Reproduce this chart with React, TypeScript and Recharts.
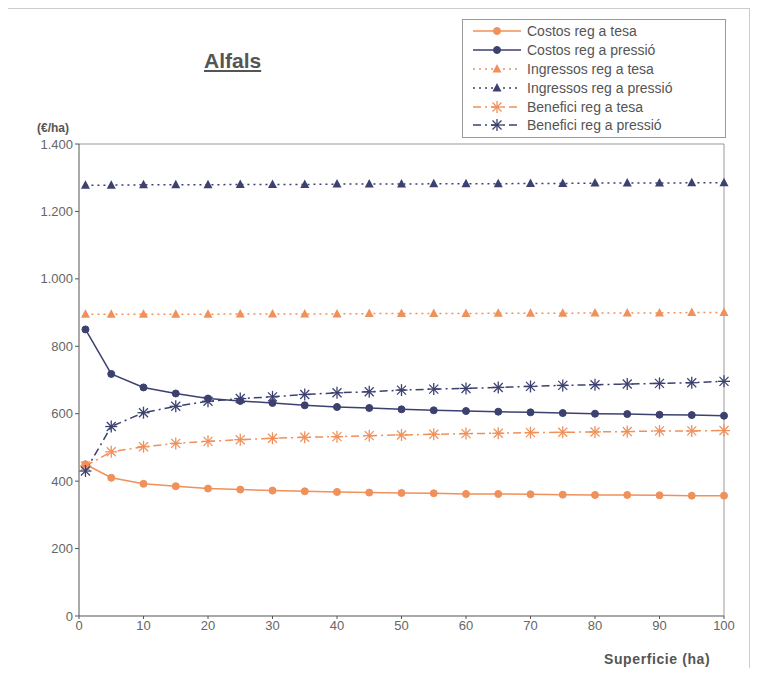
import React from "react";
import {
  LineChart,
  Line,
  XAxis,
  YAxis,
  ReferenceLine,
} from "recharts";

const superficie = [1, 5, 10, 15, 20, 25, 30, 35, 40, 45, 50, 55, 60, 65, 70, 75, 80, 85, 90, 95, 100];

const costosTesa = [450, 410, 392, 385, 378, 375, 372, 370, 368, 366, 365, 364, 362, 362, 361, 360, 359, 359, 358, 357, 357];
const costosPressio = [850, 718, 678, 660, 645, 638, 632, 625, 620, 617, 613, 610, 608, 606, 604, 602, 600, 599, 597, 596, 594];
const ingressosTesa = [895, 895, 895, 895, 895, 896, 896, 896, 896, 897, 897, 897, 897, 898, 898, 898, 899, 899, 899, 900, 900];
const ingressosPressio = [1278, 1278, 1279, 1279, 1279, 1280, 1280, 1280, 1281, 1281, 1281, 1282, 1282, 1282, 1283, 1283, 1284, 1284, 1284, 1285, 1285];
const beneficiTesa = [445, 487, 502, 512, 518, 523, 527, 530, 532, 535, 537, 539, 541, 542, 544, 545, 546, 547, 549, 549, 550];
const beneficiPressio = [430, 562, 603, 622, 637, 645, 650, 657, 662, 665, 670, 673, 675, 678, 681, 684, 686, 688, 690, 692, 696];

const yTicks = [0, 200, 400, 600, 800, 1000, 1200, 1400];
const xTicks = [0, 10, 20, 30, 40, 50, 60, 70, 80, 90, 100];

const ORANGE = "#f0905a";
const NAVY = "#3d4170";

const data = superficie.map((s, i) => ({
  s,
  costosTesa: costosTesa[i],
  costosPressio: costosPressio[i],
  ingressosTesa: ingressosTesa[i],
  ingressosPressio: ingressosPressio[i],
  beneficiTesa: beneficiTesa[i],
  beneficiPressio: beneficiPressio[i],
}));

type Shape = "circle" | "triangle" | "star";

function Marker({ cx, cy, shape, color }: { cx: number; cy: number; shape: Shape; color: string }) {
  if (cx == null || cy == null) return null;
  if (shape === "circle") return <circle cx={cx} cy={cy} r={3.5} fill={color} stroke={color} />;
  if (shape === "triangle")
    return <polygon points={`${cx},${cy - 5} ${cx + 4.5},${cy + 3.5} ${cx - 4.5},${cy + 3.5}`} fill={color} />;
  const r = 6;
  return (
    <g stroke={color} strokeWidth={1.3}>
      <line x1={cx - r} y1={cy} x2={cx + r} y2={cy} />
      <line x1={cx} y1={cy - r} x2={cx} y2={cy + r} />
      <line x1={cx - r * 0.75} y1={cy - r * 0.75} x2={cx + r * 0.75} y2={cy + r * 0.75} />
      <line x1={cx - r * 0.75} y1={cy + r * 0.75} x2={cx + r * 0.75} y2={cy - r * 0.75} />
    </g>
  );
}

const series = [
  { key: "costosTesa", name: "Costos reg a tesa", color: ORANGE, dash: undefined, shape: "circle" as Shape },
  { key: "costosPressio", name: "Costos reg a pressió", color: NAVY, dash: undefined, shape: "circle" as Shape },
  { key: "ingressosTesa", name: "Ingressos reg a tesa", color: ORANGE, dash: "2 4", shape: "triangle" as Shape },
  { key: "ingressosPressio", name: "Ingressos reg a pressió", color: NAVY, dash: "2 4", shape: "triangle" as Shape },
  { key: "beneficiTesa", name: "Benefici reg a tesa", color: ORANGE, dash: "8 4 2 4", shape: "star" as Shape },
  { key: "beneficiPressio", name: "Benefici reg a pressió", color: NAVY, dash: "8 4 2 4", shape: "star" as Shape },
];

const fmt = (v: number) => v.toLocaleString("de-DE");

function LegendBox() {
  return (
    <div
      style={{
        position: "absolute",
        left: 454,
        top: 10,
        width: 264,
        boxSizing: "border-box",
        border: "1px solid #999",
        background: "#fff",
        padding: "2px 8px",
        fontSize: 14,
        color: "#555",
        zIndex: 2,
      }}
    >
      {series.map((s) => (
        <div key={s.key} style={{ display: "flex", alignItems: "center", height: 18.8 }}>
          <svg width={52} height={14} style={{ marginRight: 4 }}>
            <line x1={2} y1={7} x2={50} y2={7} stroke={s.color} strokeWidth={1.5} strokeDasharray={s.dash} />
            <Marker cx={26} cy={7} shape={s.shape} color={s.color} />
          </svg>
          <span>{s.name}</span>
        </div>
      ))}
    </div>
  );
}

export default function App() {
  return (
    <div
      style={{
        position: "relative",
        width: 742,
        height: 660,
        fontFamily: "Liberation Sans, Arial, sans-serif",
        borderTop: "1px solid #ccc",
        borderRight: "1px solid #ccc",
        boxSizing: "border-box",
      }}
    >
      <div
        style={{
          position: "absolute",
          left: 196,
          top: 40,
          fontSize: 21,
          fontWeight: "bold",
          color: "#555",
          textDecoration: "underline",
        }}
      >
        Alfals
      </div>
      <div style={{ position: "absolute", left: 29, top: 112, fontSize: 12, fontWeight: "bold", color: "#555" }}>
        (€/ha)
      </div>
      <div
        style={{
          position: "absolute",
          left: 596,
          top: 642,
          fontSize: 14,
          fontWeight: "bold",
          letterSpacing: 0.6,
          color: "#555",
        }}
      >
        Superficie (ha)
      </div>
      <LegendBox />
      <LineChart
        width={742}
        height={660}
        data={data}
        margin={{ top: 135, right: 26, bottom: 23, left: 11 }}
      >
        <XAxis
          dataKey="s"
          type="number"
          domain={[0, 100]}
          ticks={xTicks}
          stroke="#555"
          tickSize={3}
          height={30}
          tick={{ fill: "#666", fontSize: 13 }}
        />
        <YAxis
          type="number"
          domain={[0, 1400]}
          ticks={yTicks}
          tickFormatter={fmt}
          stroke="#555"
          tickSize={4}
          width={60}
          tick={{ fill: "#666", fontSize: 13 }}
        />
        <ReferenceLine y={1400} stroke="#999" />
        <ReferenceLine x={100} stroke="#999" />
        {series.map((s) => (
          <Line
            key={s.key}
            dataKey={s.key}
            name={s.name}
            stroke={s.color}
            strokeWidth={1.5}
            strokeDasharray={s.dash}
            isAnimationActive={false}
            dot={(p: any) => <Marker key={`${s.key}-${p.index}`} cx={p.cx} cy={p.cy} shape={s.shape} color={s.color} />}
            activeDot={false}
          />
        ))}
      </LineChart>
    </div>
  );
}
